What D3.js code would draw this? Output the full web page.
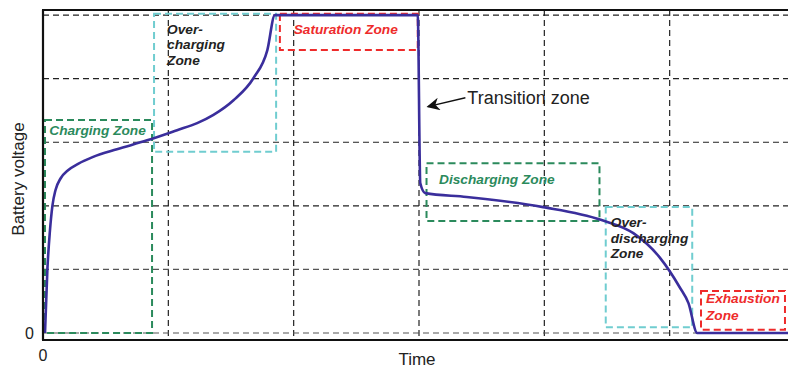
<!DOCTYPE html>
<html><head><meta charset="utf-8">
<script src="https://cdn.jsdelivr.net/npm/d3@7"></script>
<style>body{margin:0;background:#fff}svg{display:block}</style>
</head><body>
<script>
// ---- data ----
const timeValues = [0.016,0.035,0.055,0.075,0.10,0.14,0.20,0.28,0.40,0.59,0.83,1.07,1.23,1.36,1.52,1.68,1.79,1.85,2.99,3.01,3.05,3.38,3.99,4.45,4.71,4.92,5.08,5.15,5.22,5.95];
const voltageValues = [0,1.0,1.6,2.0,2.25,2.43,2.56,2.66,2.77,2.89,3.03,3.19,3.30,3.43,3.66,4.01,4.45,5.0,5.0,2.36,2.20,2.14,1.98,1.78,1.57,1.19,0.72,0.47,0.0,0.0];
const xGridValues = [1,2,3,4,5];
const yGridValues = [0,1,2,3,4,5];
const zoneNames = ["Charging","Over-charging","Saturation","Discharging","Over-discharging","Exhaustion"];
const zoneX0 = [0.016,0.886,1.89,3.06,4.49,5.25];
const zoneX1 = [0.87,1.86,2.99,4.44,5.18,5.92];
const zoneY0 = [0,2.85,4.45,1.76,0.09,0.05];
const zoneY1 = [3.35,5.02,5.02,2.67,1.98,0.66];
const zoneColors = ["#2b8a5c","#70cdd0","#ee2b2b","#2b8a5c","#70cdd0","#ee2b2b"];
const zoneLabelLines = [["Charging Zone"],["Over-","charging","Zone"],["Saturation Zone"],["Discharging Zone"],["Over-","discharging","Zone"],["Exhaustion","Zone"]];
const zoneLabelColors = ["#2b8a5c","#222","#ee2b2b","#2b8a5c","#222","#ee2b2b"];
const zoneLabelX = [0.05,0.99,2.0,3.16,4.53,5.29];
const zoneLabelY = [3.12,4.71,4.71,2.34,1.66,0.47];
const arrowFrom = [3.37,3.7];
const arrowTo = [3.07,3.56];
const arrowText = "Transition zone";

// ---- layout ----
const W = 788, H = 368;
const fam = "'Liberation Sans', Arial, sans-serif";
const svg = d3.select("body").append("svg").attr("width", W).attr("height", H);
const x = d3.scaleLinear().domain([0,6]).range([43,795]);
const y = d3.scaleLinear().domain([-0.11,5.08]).range([340,10]);

// grid
const g = svg.append("g");
g.selectAll("line.vg").data(xGridValues).join("line")
  .attr("x1", d=>x(d)).attr("x2", d=>x(d)).attr("y1", y(5.08)).attr("y2", y(-0.11))
  .attr("stroke","#222").attr("stroke-width",1.2).attr("stroke-dasharray","6,4");
g.selectAll("line.hg").data(yGridValues).join("line")
  .attr("x1", x(0)).attr("x2", W).attr("y1", d=>y(d)).attr("y2", d=>y(d))
  .attr("stroke", d=> d<=1 ? "#555" : "#222").attr("stroke-width",1.2).attr("stroke-dasharray","6,4");

// zone boxes
zoneNames.forEach((n,i)=>{
  svg.append("rect")
    .attr("x", x(zoneX0[i])).attr("y", y(zoneY1[i]))
    .attr("width", x(zoneX1[i])-x(zoneX0[i])).attr("height", y(zoneY0[i])-y(zoneY1[i]))
    .attr("fill","none").attr("stroke", zoneColors[i]).attr("stroke-width",2)
    .attr("stroke-dasharray","7,4");
});

// curve
const pts = timeValues.map((t,i)=>[t, voltageValues[i]]);
svg.append("path").datum(pts)
  .attr("d", d3.line().x(d=>x(d[0])).y(d=>y(d[1])).curve(d3.curveMonotoneX))
  .attr("fill","none").attr("stroke","#3a2e9c").attr("stroke-width",2.6).attr("stroke-linejoin","round");

// axes frame
svg.append("line").attr("x1",x(0)).attr("x2",x(0)).attr("y1",y(5.08)).attr("y2",y(-0.11)).attr("stroke","#111").attr("stroke-width",2.2);
svg.append("line").attr("x1",x(0)-1).attr("x2",W).attr("y1",y(-0.11)).attr("y2",y(-0.11)).attr("stroke","#111").attr("stroke-width",2.2);
svg.append("line").attr("x1",x(0)-1).attr("x2",W).attr("y1",y(5.08)).attr("y2",y(5.08)).attr("stroke","#111").attr("stroke-width",1.8);

// zone labels
zoneNames.forEach((n,i)=>{
  const t = svg.append("text").attr("x", x(zoneLabelX[i])).attr("y", y(zoneLabelY[i]))
    .attr("font-family",fam).attr("font-size",13.7)
    .attr("font-weight","bold").attr("font-style","italic").attr("fill", zoneLabelColors[i]);
  zoneLabelLines[i].forEach((l,j)=>{
    t.append("tspan").attr("x", x(zoneLabelX[i])).attr("dy", j===0?0:(i===5?17:15.5)).text(l);
  });
});

// arrow annotation
svg.append("defs").append("marker").attr("id","ah").attr("viewBox","0 0 10 10")
  .attr("refX",9).attr("refY",5).attr("orient","auto")
  .attr("markerUnits","userSpaceOnUse").attr("markerWidth",24).attr("markerHeight",13)
  .append("path").attr("d","M0,0 L10,5 L0,10 L3,5 Z").attr("fill","#111");
svg.append("line").attr("x1",x(arrowFrom[0])).attr("y1",y(arrowFrom[1]))
  .attr("x2",x(arrowTo[0])).attr("y2",y(arrowTo[1]))
  .attr("stroke","#111").attr("stroke-width",1.3).attr("marker-end","url(#ah)");
svg.append("text").attr("x", x(arrowFrom[0])+2).attr("y", y(arrowFrom[1])+6)
  .attr("font-family",fam).attr("font-size",18).attr("fill","#222").text(arrowText);

// axis labels
svg.append("text").attr("x", x(0)).attr("y", 361).attr("text-anchor","middle").attr("font-family",fam).attr("font-size",16).attr("fill","#222").text("0");
svg.append("text").attr("x", 34).attr("y", y(0)+6).attr("text-anchor","end").attr("font-family",fam).attr("font-size",16).attr("fill","#222").text("0");
svg.append("text").attr("x", x(3)-2).attr("y", 365).attr("text-anchor","middle").attr("font-family",fam).attr("font-size",17).attr("fill","#222").text("Time");
svg.append("text").attr("transform",`translate(24,${179}) rotate(-90)`).attr("text-anchor","middle").attr("font-family",fam).attr("font-size",17).attr("fill","#222").text("Battery voltage");
</script>
</body></html>
